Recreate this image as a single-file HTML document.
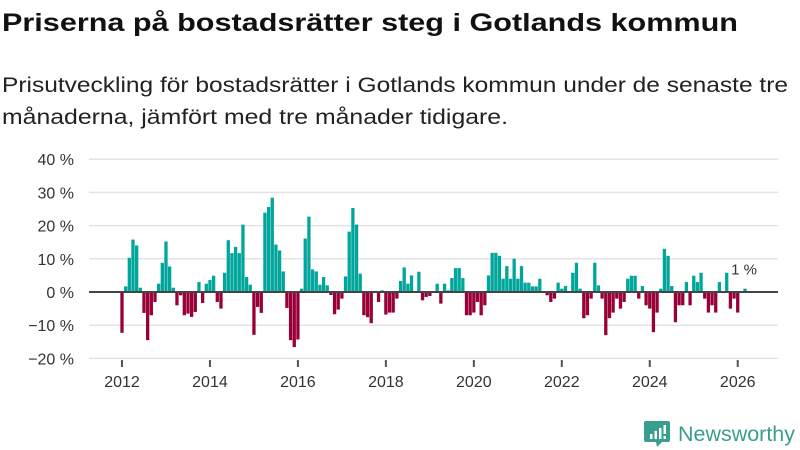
<!DOCTYPE html>
<html><head><meta charset="utf-8"><style>
html,body{margin:0;padding:0;background:#fff;width:800px;height:450px;overflow:hidden}
svg{display:block;font-family:"Liberation Sans",sans-serif}
</style></head><body>
<svg id="chart" width="800" height="450" viewBox="0 0 800 450">
<text x="2" y="31" font-size="25" font-weight="bold" fill="#111" textLength="736" lengthAdjust="spacingAndGlyphs">Priserna på bostadsrätter steg i Gotlands kommun</text>
<text x="2" y="92" font-size="21" fill="#222" textLength="786" lengthAdjust="spacingAndGlyphs">Prisutveckling för bostadsrätter i Gotlands kommun under de senaste tre</text>
<text x="2" y="124" font-size="21" fill="#222" textLength="506" lengthAdjust="spacingAndGlyphs">månaderna, jämfört med tre månader tidigare.</text>
<g id="grid"></g>
<g id="yaxis"></g>
<g id="xaxis"></g>
<g id="bars"></g>
<line id="zero" x1="89" x2="778" y1="292" y2="292" stroke="#444" stroke-width="2"/>
<text id="lastlabel" font-size="15" fill="#333" text-anchor="middle" stroke="#fff" stroke-width="3" paint-order="stroke">1 %</text>
<g>
<path d="M646 421 h22 a2 2 0 0 1 2 2 v17 a2 2 0 0 1 -2 2 h-6 l-5 5 l-1 -5 h-10 a2 2 0 0 1 -2 -2 v-17 a2 2 0 0 1 2 -2z" fill="#3a9e8f"/>
<rect x="650" y="434" width="2.5" height="5" fill="#fff"/><rect x="654.5" y="431" width="2.5" height="8" fill="#fff"/><rect x="659" y="428" width="2.5" height="11" fill="#fff"/><rect x="663.5" y="425" width="2.5" height="9" fill="#fff"/><rect x="663.5" y="436" width="2.5" height="3" fill="#fff"/>
<text x="678" y="441" font-size="21" fill="#3a9e8f" textLength="117" lengthAdjust="spacingAndGlyphs">Newsworthy</text>
</g>
</svg>
<script>
const startYear = 2012;
const values = [
-12.3,1.7,10.3,15.8,14,1.3,-6.3,-14.5,-7,-3,2.5,8.8,
15.2,7.7,1.3,-4,-1,-7,-6.5,-7.5,-6,3,-3.3,2.5,
3.6,4.9,-3,-5,5.8,15.6,11.7,13.6,11.7,20.3,4.5,2.2,
-12.9,-4.5,-6.3,23.9,25.6,28.4,14.3,12.5,6.2,-4.8,-14.5,-16.6,
-14.3,1,16.1,22.7,6.8,6.2,2.2,4.5,2,-0.9,-6.7,-5.3,
-2,4.7,18.2,25.3,20.3,5.5,-7,-7.6,-9.4,0,-3,0.5,
-6.8,-6.2,-6.2,-2,3.3,7.4,2.5,5,0,6.1,-2.5,-1.5,
-1.2,0,2.5,-3.5,2.5,0.5,4.2,7.2,7.2,4.2,-7,-7,
-6.2,-3,-7,-4,5,11.8,11.8,10.9,4,7.8,4,10,
4,7.8,2.8,2.8,1.7,1.7,4,0,-1,-3,-2,2.8,
1,1.8,0,5.8,8.8,1,-7.9,-7,-2,8.8,2,-2,
-13,-7.9,-6.2,-2,-5,-3,4,4.9,4.9,-2,1.8,-4,
-5,-12.1,-6.2,1,13,10.9,1.8,-9.1,-4,-4,3,-4,
4.9,3,5.8,-2,-6.2,-4,-6.2,3,0,5.8,-5,-2,
-6.2,0,1
];
const yTicks = [40,30,20,10,0,-10,-20];
const yTickLabels = ["40 %","30 %","20 %","10 %","0 %","\u221210 %","\u221220 %"];
const xTickYears = [2012,2014,2016,2018,2020,2022,2024,2026];
const lastLabel = "1 %";

const NS = "http://www.w3.org/2000/svg";
const y = v => 292 - v * 3.32;
const x = i => 122 + i * 3.665;
const xYear = yr => x((yr - startYear) * 12);
function mk(tag, attrs, parent){const e=document.createElementNS(NS,tag);for(const k in attrs)e.setAttribute(k,attrs[k]);parent.appendChild(e);return e;}

const grid=document.getElementById('grid'), yaxis=document.getElementById('yaxis'), xaxis=document.getElementById('xaxis'), bars=document.getElementById('bars');
yTicks.forEach((t,i)=>{
  if(t!==0){
    const l=mk('line',{x1:89,x2:778,y1:y(t),y2:y(t),stroke:'#e3e3e3','stroke-width':1.5},grid);
    
    
  }
  const tx=mk('text',{x:74,y:y(t)+6,'font-size':16,fill:'#333','text-anchor':'end'},yaxis);
  tx.textContent=yTickLabels[i];
  
  
});
xTickYears.forEach(yr=>{
  const cx=xYear(yr);
  const tk=mk('line',{x1:cx,x2:cx,y1:360,y2:367,stroke:'#555','stroke-width':2},xaxis);
  
  
  const tx=mk('text',{x:cx,y:387,'font-size':16,fill:'#333','text-anchor':'middle'},xaxis);
  tx.textContent=yr;
  
  
});
values.forEach((v,i)=>{
  const top=Math.min(y(v),292), h=Math.abs(y(v)-292);
  const r=mk('rect',{x:x(i)-1.65,y:top,width:3.3,height:h,fill:v>=0?'#00a69c':'#990038'},bars);
  
  
});
const li=values.length-1;
const lab=document.getElementById('lastlabel');
lab.setAttribute('x', x(li)-1);
lab.setAttribute('y', y(values[li]) - 14);
lab.textContent=lastLabel;
</script>
</body></html>
